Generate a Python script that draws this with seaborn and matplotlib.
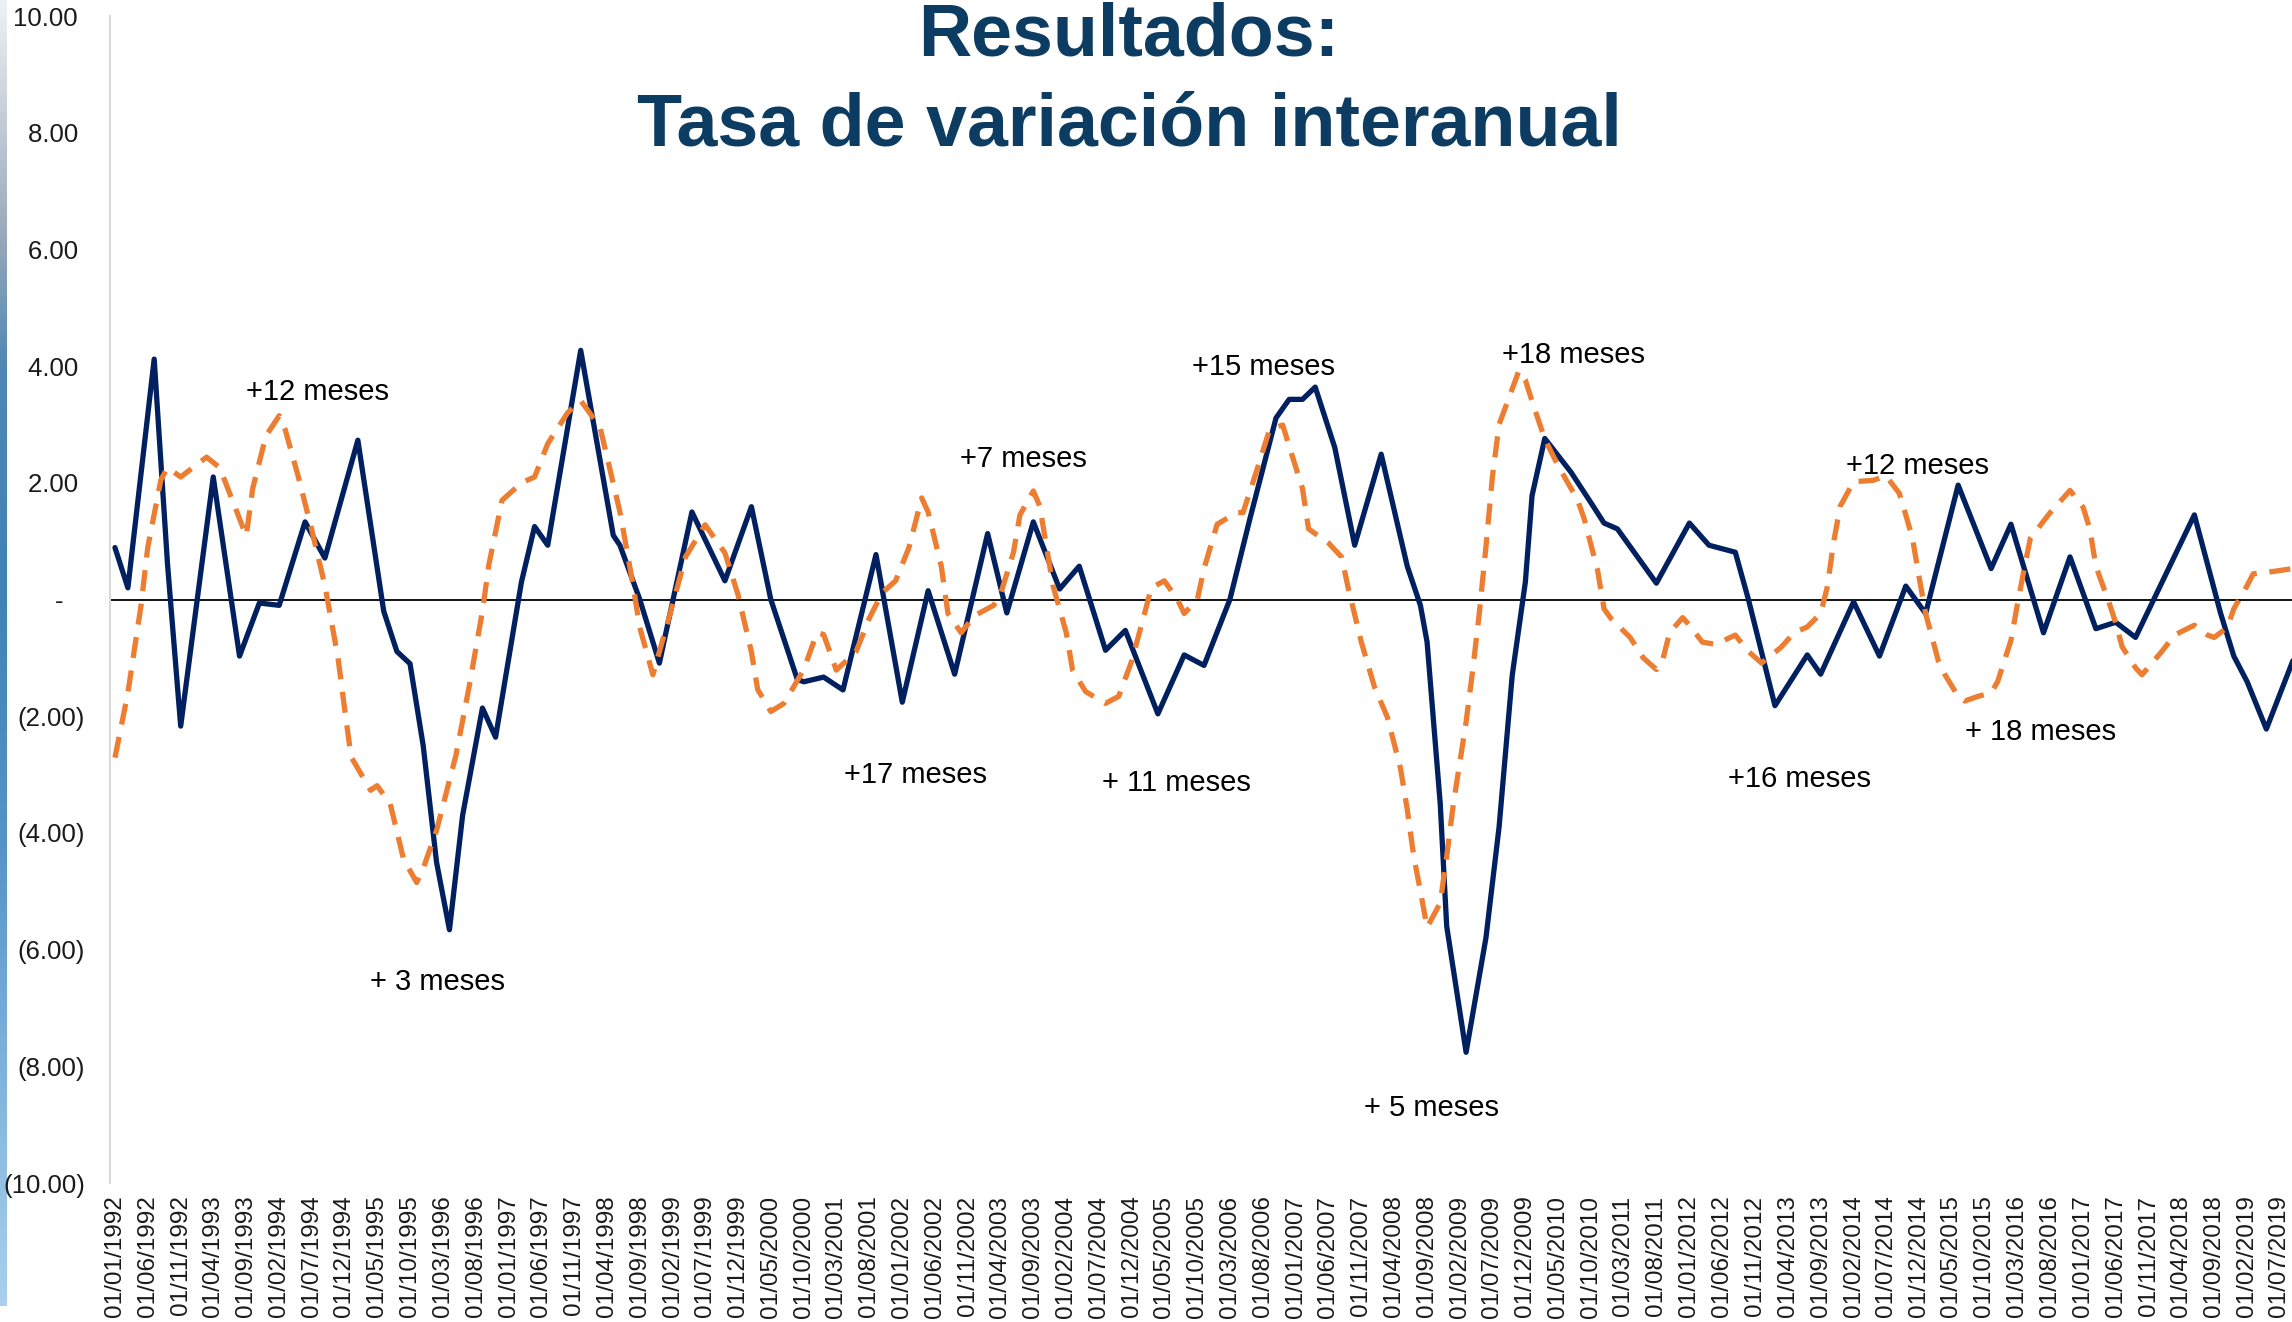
import pandas as pd
import matplotlib
matplotlib.use('Agg')
import matplotlib.pyplot as plt
import matplotlib.dates as mdates
from matplotlib.colors import LinearSegmentedColormap
import numpy as np
import seaborn as sns

sns.set_theme(style='white')
plt.rcParams['font.family'] = ['Liberation Sans', 'DejaVu Sans']

# Serie 1 (linea continua): mes (0 = ene-1992) y tasa interanual
mes_serie1 = [0, 2, 6, 8, 10, 15, 19, 22, 25, 29,
              32, 37, 41, 43, 45, 47, 49, 51, 53, 56,
              58, 62, 64, 66, 71, 76, 77, 80, 83, 88,
              93, 97, 100, 104, 105, 108, 111, 116, 120, 124,
              128, 133, 136, 140, 144, 147, 151, 154, 159, 163,
              166, 170, 173, 177, 179, 181, 183, 186, 189, 193,
              197, 199, 200, 202, 203, 206, 209, 211, 213, 215,
              216, 218, 222, 225, 227, 229, 235, 240, 243, 247,
              249, 253, 258, 260, 265, 269, 273, 276, 281, 286,
              289, 294, 298, 302, 305, 308, 317, 321, 323, 325,
              328, 332]
tasa_serie1 = [0.89, 0.20, 4.12, 0.60, -2.17, 2.10, -0.97, -0.06, -0.10, 1.33,
               0.71, 2.73, -0.20, -0.89, -1.10, -2.50, -4.50, -5.66, -3.70, -1.86,
               -2.36, 0.30, 1.25, 0.93, 4.27, 1.10, 0.93, 0.00, -1.09, 1.50,
               0.32, 1.59, 0.00, -1.37, -1.41, -1.33, -1.55, 0.77, -1.76, 0.15,
               -1.28, 1.13, -0.23, 1.33, 0.18, 0.57, -0.87, -0.53, -1.96, -0.95,
               -1.13, 0.00, 1.37, 3.11, 3.43, 3.43, 3.64, 2.60, 0.93, 2.49,
               0.57, -0.10, -0.73, -3.50, -5.60, -7.76, -5.80, -3.90, -1.30, 0.30,
               1.78, 2.76, 2.18, 1.66, 1.31, 1.21, 0.28, 1.31, 0.93, 0.81,
               0.00, -1.82, -0.95, -1.28, -0.04, -0.97, 0.23, -0.24, 1.96, 0.53,
               1.29, -0.57, 0.73, -0.50, -0.39, -0.65, 1.45, -0.24, -0.97, -1.41,
               -2.22, -1.05]

# Serie 2 (linea discontinua, adelantada)
mes_serie2 = [0, 2, 4, 5, 7, 8, 10, 14, 16, 20,
              21, 23, 25, 26, 28, 30, 32, 34, 35, 36,
              39, 40, 42, 44, 46, 47, 49, 52, 54, 56,
              57, 59, 62, 64, 66, 69, 71, 74, 75, 77,
              78, 79, 80, 82, 85, 87, 90, 93, 95, 97,
              98, 100, 102, 105, 107, 108, 110, 113, 115, 117,
              119, 121, 123, 124, 126, 127, 129, 131, 134, 135,
              137, 138, 140, 141, 143, 145, 146, 148, 151, 153,
              155, 157, 158, 160, 162, 163, 165, 166, 168, 171,
              172, 174, 176, 178, 179, 181, 182, 185, 187, 188,
              190, 192, 194, 196, 197, 198, 199, 200, 202, 203,
              204, 206, 207, 208, 209, 210, 211, 214, 215, 216,
              218, 220, 223, 224, 226, 227, 228, 231, 233, 235,
              236, 237, 239, 240, 242, 244, 247, 249, 251, 254,
              256, 258, 260, 261, 262, 263, 265, 268, 270, 272,
              273, 274, 275, 276, 278, 279, 281, 282, 284, 286,
              287, 289, 290, 291, 292, 295, 297, 298, 300, 301,
              302, 304, 305, 306, 308, 309, 312, 314, 317, 319,
              320, 322, 323, 325, 326, 329, 332]
tasa_serie2 = [-2.71, -1.60, -0.10, 0.89, 2.05, 2.26, 2.10, 2.44, 2.26, 1.09,
               1.90, 2.80, 3.15, 2.91, 2.10, 1.21, 0.24, -1.00, -1.86, -2.70,
               -3.27, -3.19, -3.50, -4.45, -4.85, -4.61, -3.96, -2.67, -1.50, -0.20,
               0.60, 1.70, 2.00, 2.10, 2.67, 3.20, 3.41, 2.95, 2.46, 1.50,
               0.89, 0.24, -0.48, -1.29, -0.08, 0.73, 1.28, 0.80, 0.08, -0.90,
               -1.54, -1.92, -1.78, -1.20, -0.57, -0.60, -1.21, -0.89, -0.32, 0.12,
               0.32, 0.89, 1.74, 1.50, 0.57, -0.24, -0.57, -0.28, -0.10, 0.08,
               0.81, 1.45, 1.86, 1.60, 0.24, -0.57, -1.21, -1.58, -1.78, -1.66,
               -1.05, -0.20, 0.20, 0.32, 0.00, -0.24, 0.00, 0.53, 1.29, 1.49,
               1.49, 2.18, 2.91, 2.99, 2.63, 1.90, 1.21, 0.97, 0.73, 0.20,
               -0.73, -1.50, -2.02, -2.90, -3.60, -4.40, -5.00, -5.62, -5.20, -4.40,
               -3.50, -2.10, -1.20, -0.24, 0.90, 2.10, 3.00, 3.92, 3.76, 3.40,
               2.75, 2.30, 1.70, 1.37, 0.50, -0.16, -0.32, -0.65, -1.00, -1.20,
               -1.01, -0.57, -0.31, -0.44, -0.73, -0.77, -0.61, -0.89, -1.09, -0.82,
               -0.57, -0.47, -0.24, 0.20, 1.00, 1.60, 2.02, 2.04, 2.12, 1.82,
               1.45, 1.05, 0.40, -0.24, -1.05, -1.29, -1.66, -1.74, -1.66, -1.60,
               -1.41, -0.70, -0.10, 0.50, 1.05, 1.49, 1.74, 1.87, 1.58, 1.21,
               0.57, -0.05, -0.40, -0.81, -1.17, -1.29, -0.89, -0.61, -0.44, -0.61,
               -0.65, -0.48, -0.16, 0.24, 0.44, 0.48, 0.53]

# Anotaciones de adelanto
notas = ['+12 meses', '+ 3 meses', '+17 meses', '+7 meses', '+ 11 meses', '+15 meses',
         '+18 meses', '+ 5 meses', '+16 meses', '+12 meses', '+ 18 meses']
notas_px = [(317, 392), (437, 982), (916, 775), (1023, 459), (1176, 783), (1264, 367),
            (1574, 355), (1432, 1108), (1799, 779), (1917, 466), (2041, 732)]

ticks_y = [-10, -8, -6, -4, -2, 0, 2, 4, 6, 8, 10]


def etiqueta(v):
    if v == 0:
        return '-   '
    if v < 0:
        return f'({abs(v):.2f})'
    return f'{v:.2f} '


meses = pd.date_range('1992-01-01', periods=340, freq='MS')
df1 = pd.DataFrame({'fecha': meses[mes_serie1], 'tasa': tasa_serie1})
df2 = pd.DataFrame({'fecha': meses[mes_serie2], 'tasa': tasa_serie2})

W, H = 2292, 1322
fig = plt.figure(figsize=(W / 100, H / 100), dpi=100)
fig.patch.set_facecolor('white')

# franja decorativa a la izquierda
strip = fig.add_axes([0, 1 - 1306 / H, 7 / W, 1306 / H])
cmap = LinearSegmentedColormap.from_list('franja', [
    (0.0, '#eef1f4'), (0.08, '#c9d1da'), (0.18, '#98a9ba'), (0.28, '#4f87b3'),
    (0.45, '#3f82b6'), (0.65, '#5594c8'), (0.85, '#86b8de'), (1.0, '#a9d0ec')])
strip.imshow(np.linspace(0, 1, 256)[:, None], aspect='auto', cmap=cmap)
strip.axis('off')

ax = fig.add_axes([110 / W, 1 - 1183 / H, 1 - 110 / W, (1183 - 16) / H])
ax.axhline(0, color='black', lw=1.3, zorder=1)
sns.lineplot(data=df1, x='fecha', y='tasa', ax=ax, color='#002060', lw=3.8,
             solid_joinstyle='round', solid_capstyle='round', zorder=3)
sns.lineplot(data=df2, x='fecha', y='tasa', ax=ax, color='#ED7D31', lw=3.8,
             linestyle=(0, (4, 2.4)), zorder=4)

ax.set_ylim(-10, 10)
ax.set_yticks(ticks_y)
ax.set_yticklabels([etiqueta(v) for v in ticks_y], fontsize=18.5, color='#1a1a1a')

ticks_x = pd.date_range('1992-01-01', '2019-07-01', freq='5MS')
ax.set_xticks(ticks_x)
ax.set_xticklabels([d.strftime('%d/%m/%Y') for d in ticks_x], rotation=90,
                   fontsize=17.5, color='#1a1a1a')
ax.set_xlim(mdates.date2num(pd.Timestamp('1992-01-01')) - 23,
            mdates.date2num(pd.Timestamp('2019-08-28')))
ax.tick_params(axis='x', length=0, pad=9)
ax.tick_params(axis='y', length=0, pad=18)
ax.set_xlabel('')
ax.set_ylabel('')
ax.grid(False)
for s in ['top', 'right', 'bottom']:
    ax.spines[s].set_visible(False)
ax.spines['left'].set_color('#d9d9d9')
ax.spines['left'].set_linewidth(1.5)

for txt, (px, py) in zip(notas, notas_px):
    fig.text(px / W, 1 - py / H, txt, fontsize=21, ha='center', va='center', color='black')

color_titulo = '#0c3c62'
fig.text(1129 / W, 1 - 56 / H, 'Resultados:', fontsize=53, fontweight='bold',
         ha='center', va='baseline', color=color_titulo)
fig.text(1129 / W, 1 - 146 / H, 'Tasa de variación interanual', fontsize=53,
         fontweight='bold', ha='center', va='baseline', color=color_titulo)

fig.savefig('out.png', dpi=100, facecolor='white')
